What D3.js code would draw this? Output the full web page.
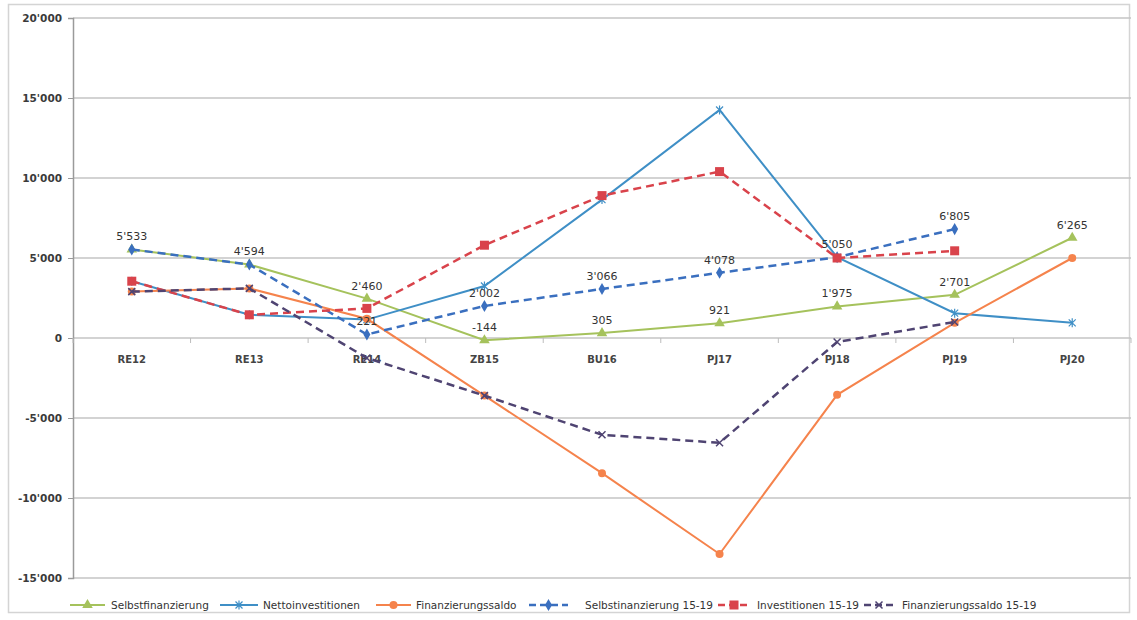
<!DOCTYPE html>
<html>
<head>
<meta charset="utf-8">
<script src="https://cdn.jsdelivr.net/npm/d3@7"></script>
<style>
  html, body { margin: 0; padding: 0; background: #fff; }
  svg { display: block; }
  text { font-family: "DejaVu Sans", Verdana, sans-serif; }
</style>
</head>
<body>
<svg id="chart" width="1137" height="620"></svg>
<script>
const categories = ["RE12","RE13","RE14","ZB15","BU16","PJ17","PJ18","PJ19","PJ20"];
const yTicks = [-15000, -10000, -5000, 0, 5000, 10000, 15000, 20000];

const selbstfinanzierung   = [5533, 4594, 2460, -144, 305, 921, 1975, 2701, 6265];
const nettoinvestitionen   = [3550, 1450, 1150, 3250, 8650, 14250, 5050, 1550, 950];
const finanzierungssaldo   = [2900, 3100, 1200, -3600, -8450, -13500, -3550, 950, 5000];
const selbstfin1519        = [5533, 4594, 221, 2002, 3066, 4078, 5050, 6805, null];
const investitionen1519    = [3550, 1450, 1850, 5800, 8900, 10400, 5000, 5450, null];
const finanzierungssaldo1519 = [2900, 3100, -1250, -3600, -6050, -6550, -250, 1000, null];

const seriesNames = ["Selbstfinanzierung","Nettoinvestitionen","Finanzierungssaldo",
  "Selbstinanzierung 15-19","Investitionen 15-19","Finanzierungssaldo 15-19"];

const series = [
  {name: seriesNames[0], values: selbstfinanzierung, color: "#a5c25c", dash: null, marker: "triangle"},
  {name: seriesNames[1], values: nettoinvestitionen, color: "#3f8fc6", dash: null, marker: "star"},
  {name: seriesNames[2], values: finanzierungssaldo, color: "#f5834c", dash: null, marker: "circle"},
  {name: seriesNames[3], values: selbstfin1519, color: "#3a6fbf", dash: "8,5", marker: "diamond"},
  {name: seriesNames[4], values: investitionen1519, color: "#d9434b", dash: "8,5", marker: "square"},
  {name: seriesNames[5], values: finanzierungssaldo1519, color: "#4f4472", dash: "8,5", marker: "x"}
];

const fmt = v => {
  const s = d3.format(",")(Math.abs(v)).replace(/,/g, "'");
  return (v < 0 ? "-" : "") + s;
};

const svg = d3.select("#chart");

// outer frame (scan border)
svg.append("rect").attr("x", 8.5).attr("y", 4.5).attr("width", 1121).attr("height", 608)
  .attr("fill", "none").attr("stroke", "#d4d4d4").attr("stroke-width", 1.5);

const pLeft = 73, pRight = 1131, pTop = 18, pBottom = 578;
const x = d3.scaleBand().domain(categories).range([pLeft, pRight]);
const xc = c => x(c) + x.bandwidth() / 2;
const y = d3.scaleLinear().domain([-15000, 20000]).range([pBottom, pTop]);

// gridlines
svg.append("g").selectAll("line").data(yTicks).join("line")
  .attr("x1", pLeft).attr("x2", pRight)
  .attr("y1", d => y(d)).attr("y2", d => y(d))
  .attr("stroke", "#c4c4c4").attr("stroke-width", 1.5);

// y axis
const yAxis = d3.axisLeft(y).tickValues(yTicks).tickSize(5).tickPadding(6).tickFormat(fmt);
const gy = svg.append("g").attr("transform", `translate(${pLeft},0)`).call(yAxis);
gy.select(".domain").attr("stroke", "#9a9a9a").attr("stroke-width", 1.5);
gy.selectAll(".tick line").attr("stroke", "#9a9a9a");
gy.selectAll(".tick text").attr("font-size", 10.5).attr("font-weight", "bold").attr("fill", "#3a3a3a")
  .attr("font-family", "'DejaVu Sans', sans-serif");

// x axis on the zero line
const xAxis = d3.axisBottom(x).tickSize(0).tickPadding(18);
const gx = svg.append("g").attr("transform", `translate(0,${y(0)})`).call(xAxis);
gx.select(".domain").remove();
gx.selectAll(".tick text").attr("font-size", 10).attr("font-weight", "bold").attr("fill", "#444")
  .attr("font-family", "'DejaVu Sans', sans-serif");
// boundary tick marks
svg.append("g").selectAll("line").data(categories.concat(["_end"])).join("line")
  .attr("x1", (d, i) => pLeft + i * x.bandwidth()).attr("x2", (d, i) => pLeft + i * x.bandwidth())
  .attr("y1", y(0)).attr("y2", y(0) + 5)
  .attr("stroke", "#bdbdbd").attr("stroke-width", 1);

// markers
function drawMarker(g, type, color, cx, cy) {
  if (type === "triangle") {
    g.append("path").attr("d", d3.symbol(d3.symbolTriangle, 48)())
      .attr("transform", `translate(${cx},${cy})`).attr("fill", color);
  } else if (type === "circle") {
    g.append("circle").attr("cx", cx).attr("cy", cy).attr("r", 4).attr("fill", color);
  } else if (type === "diamond") {
    g.append("path").attr("d", d3.symbol(d3.symbolDiamond, 42)())
      .attr("transform", `translate(${cx},${cy})`).attr("fill", color);
  } else if (type === "square") {
    g.append("rect").attr("x", cx - 4.5).attr("y", cy - 4.5).attr("width", 9).attr("height", 9).attr("fill", color);
  } else if (type === "x") {
    g.append("path").attr("d", `M${cx-3.5},${cy-3.5}L${cx+3.5},${cy+3.5}M${cx-3.5},${cy+3.5}L${cx+3.5},${cy-3.5}`)
      .attr("stroke", color).attr("stroke-width", 1.5).attr("fill", "none");
  } else if (type === "star") {
    g.append("path").attr("d", `M${cx-3.5},${cy-3.5}L${cx+3.5},${cy+3.5}M${cx-3.5},${cy+3.5}L${cx+3.5},${cy-3.5}M${cx},${cy-4.5}L${cx},${cy+4.5}`)
      .attr("stroke", color).attr("stroke-width", 1.2).attr("fill", "none");
  }
}

const lineGen = d3.line()
  .defined(d => d.v !== null)
  .x(d => xc(d.c)).y(d => y(d.v));

const plotG = svg.append("g");
series.forEach(s => {
  const pts = categories.map((c, i) => ({c, v: s.values[i]}));
  const g = plotG.append("g");
  g.append("path").datum(pts).attr("d", lineGen)
    .attr("fill", "none").attr("stroke", s.color)
    .attr("stroke-width", s.dash ? 2.5 : 2)
    .attr("stroke-dasharray", s.dash);
  pts.filter(d => d.v !== null).forEach(d => drawMarker(g, s.marker, s.color, xc(d.c), y(d.v)));
});

// data labels
const labelG = svg.append("g");
categories.forEach((c, i) => {
  const a = selbstfinanzierung[i], b = selbstfin1519[i];
  const vals = [];
  if (a !== null) vals.push(a);
  if (b !== null && b !== a) vals.push(b);
  vals.forEach(v => {
    labelG.append("text").attr("x", xc(c)).attr("y", y(v) - 9)
      .attr("text-anchor", "middle").attr("font-size", 11).attr("fill", "#333")
      .text(fmt(v));
  });
});

// legend
const legendItems = [
  {s: series[0], x0: 70, x1: 105, tx: 111},
  {s: series[1], x0: 220, x1: 258, tx: 263},
  {s: series[2], x0: 376, x1: 411, tx: 416},
  {s: series[3], x0: 529, x1: 568, tx: 585},
  {s: series[4], x0: 718, x1: 750, tx: 757},
  {s: series[5], x0: 864, x1: 894, tx: 902}
];
const lg = svg.append("g");
const ly = 605;
legendItems.forEach(it => {
  lg.append("line").attr("x1", it.x0).attr("x2", it.x1).attr("y1", ly).attr("y2", ly)
    .attr("stroke", it.s.color).attr("stroke-width", it.s.dash ? 2.5 : 2)
    .attr("stroke-dasharray", it.s.dash ? "7,4" : null);
  drawMarker(lg, it.s.marker, it.s.color, (it.x0 + it.x1) / 2, ly);
  lg.append("text").attr("x", it.tx).attr("y", ly + 4).attr("font-size", 10.5).attr("fill", "#333")
    .text(it.s.name);
});
</script>
</body>
</html>
